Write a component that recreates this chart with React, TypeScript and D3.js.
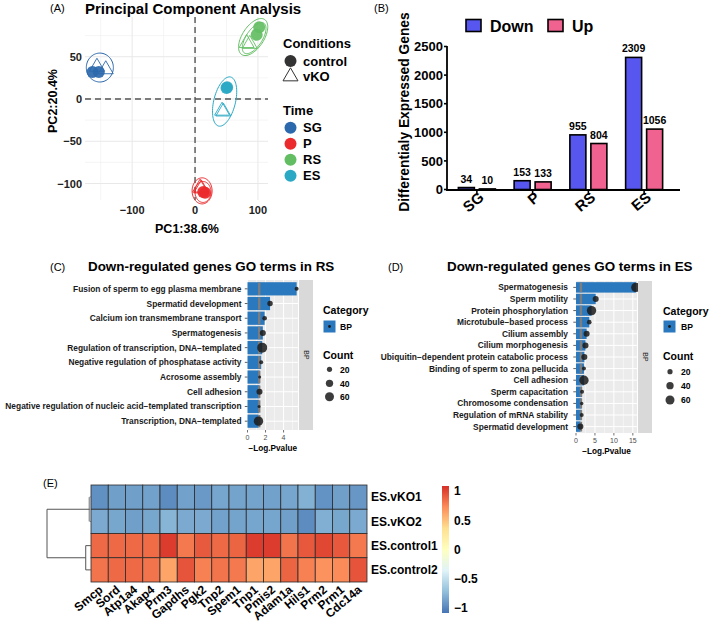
import React from "react";
import * as d3 from "d3";

const FONT = "'Liberation Sans', Arial, Helvetica, sans-serif";

// ---------------- Panel A: PCA ----------------
const timeLevels = ["SG", "P", "RS", "ES"];
const timeColors = ["#2b68ac", "#eb2a2d", "#63be63", "#2ba9c4"];
const conditionLevels = ["control", "vKO"];
const pcaTime = ["SG", "SG", "SG", "SG", "P", "P", "P", "P", "RS", "RS", "RS", "RS", "ES", "ES", "ES", "ES"];
const pcaCondition = ["control", "control", "vKO", "vKO", "control", "control", "vKO", "vKO", "control", "control", "vKO", "vKO", "control", "control", "vKO", "vKO"];
const pc1Values = [-163, -153, -156, -142, 16, 13, 8, 10, 102, 98, 82, 87, 51, 50, 43, 45];
const pc2Values = [32, 32, 38, 35, -111, -110, -105, -106, 85, 76, 66, 65, 14, 13, -14, -15];
const ellipseTime = ["SG", "P", "P", "RS", "RS", "ES"];
const ellipseCx = [-151.4, 11.2, 12.7, 92.4, 94, 47];
const ellipseCy = [37.2, -108.7, -110, 73.3, 72, -3];
const ellipseUx = [21.5, 15.9, 12.7, 18.3, 15.5, 9.6];
const ellipseUy = [0, 0, 0, 20.7, 17.6, 29];
const ellipseVx = [0, 0, 0, 14.3, 10.7, 16.7];
const ellipseVy = [17.1, 15.4, 12.4, -7.1, -5.3, -3.1];
const pcaXTicks = [-100, 0, 100];
const pcaXMinor = [-150, -50, 50];
const pcaYTicks = [-100, -50, 0, 50];
const pcaYMinor = [-75, -25, 25, 75];

// ---------------- Panel B: DEG bars ----------------
const degStages = ["SG", "P", "RS", "ES"];
const degDown = [34, 153, 955, 2309];
const degUp = [10, 133, 804, 1056];
const degTicks = [0, 500, 1000, 1500, 2000, 2500];

// ---------------- Panel C: GO RS ----------------
const rsTerms = [
  "Fusion of sperm to egg plasma membrane",
  "Spermatid development",
  "Calcium ion transmembrane transport",
  "Spermatogenesis",
  "Regulation of transcription, DNA\u2212templated",
  "Negative regulation of phosphatase activity",
  "Acrosome assembly",
  "Cell adhesion",
  "Negative regulation of nucleic acid\u2212templated transcription",
  "Transcription, DNA\u2212templated",
];
const rsLogP = [5.45, 2.5, 1.9, 1.7, 1.63, 1.52, 1.35, 1.33, 1.28, 1.22];
const rsCount = [12, 22, 16, 27, 74, 12, 7, 27, 7, 65];

// ---------------- Panel D: GO ES ----------------
const esTerms = [
  "Spermatogenesis",
  "Sperm motility",
  "Protein phosphorylation",
  "Microtubule\u2212based process",
  "Cilium assembly",
  "Cilium morphogenesis",
  "Ubiquitin\u2212dependent protein catabolic process",
  "Binding of sperm to zona pellucida",
  "Cell adhesion",
  "Sperm capacitation",
  "Chromosome condensation",
  "Regulation of mRNA stability",
  "Spermatid development",
];
const esLogP = [15.8, 5.2, 4.1, 3.5, 2.8, 2.5, 2.2, 2.1, 2.1, 1.6, 1.5, 1.5, 1.15];
const esCount = [65, 27, 65, 16, 27, 27, 27, 12, 65, 12, 9, 12, 27];
const countLegend = [20, 40, 60];
const pThreshold = 1.3;

// ---------------- Panel E: heatmap ----------------
const heatGenes = ["Smcp", "Sord", "Atp1a4", "Akap4", "Prm3", "Gapdhs", "Pgk2", "Tnp2", "Spem1", "Tnp1", "Pmis2", "Adam1a", "Hils1", "Prm2", "Prm1", "Cdc14a"];
const heatSamples = ["ES.vKO1", "ES.vKO2", "ES.control1", "ES.control2"];
const heatVKO1 = [-0.95, -0.88, -0.88, -0.87, -0.97, -0.87, -0.91, -0.85, -0.86, -0.86, -0.87, -0.85, -0.79, -0.94, -0.88, -0.92];
const heatVKO2 = [-0.83, -0.84, -0.88, -0.84, -0.77, -0.83, -0.83, -0.87, -0.86, -0.85, -0.85, -0.88, -0.97, -0.8, -0.84, -0.83];
const heatCtrl1 = [0.86, 0.86, 0.86, 0.85, 1.04, 0.8, 0.92, 0.86, 0.88, 1.04, 1.04, 0.82, 0.93, 0.99, 0.93, 0.8];
const heatCtrl2 = [0.82, 0.86, 0.86, 0.82, 0.62, 0.94, 0.77, 0.82, 0.8, 0.62, 0.62, 0.88, 0.77, 0.7, 0.73, 0.94];
const heatRows = [heatVKO1, heatVKO2, heatCtrl1, heatCtrl2];
const dendroHeights = [0.3, 1.2, 10]; // vKO merge, control merge, root
const heatPalette = ["#4575B4", "#91BFDB", "#E0F3F8", "#FFFFBF", "#FEE090", "#FC8D59", "#D73027"];
const heatLegendTicks = [1, 0.5, 0, -0.5, -1];

const fmtMinus = (v: number) => (v < 0 ? "\u2212" + Math.abs(v) : String(v));

function triPath(cx: number, cy: number, s: number) {
  const h = s / Math.sqrt(3);
  return `M${cx},${cy - h}L${cx + s / 2},${cy + h / 2}L${cx - s / 2},${cy + h / 2}Z`;
}

function PanelA() {
  const x = d3.scaleLinear().domain([-175, 116]).range([85, 268]);
  const y = d3.scaleLinear().domain([-119.5, 97]).range([200, 17]);
  const color = d3.scaleOrdinal<string, string>().domain(timeLevels).range(timeColors);
  const line = d3.line<[number, number]>().curve(d3.curveLinearClosed);
  const phis = d3.range(0, 2 * Math.PI, Math.PI / 40);
  const [x0, x1] = x.range();
  const [y1, y0] = y.range();
  return (
    <g>
      <text x={50} y={12} fontSize={11}>(A)</text>
      <text x={85} y={13.5} fontSize={15} fontWeight="bold">Principal Component Analysis</text>
      {pcaXMinor.map((t) => <line key={"xm" + t} x1={x(t)} x2={x(t)} y1={y0} y2={y1} stroke="#efefef" strokeWidth={0.6} />)}
      {pcaYMinor.map((t) => <line key={"ym" + t} x1={x0} x2={x1} y1={y(t)} y2={y(t)} stroke="#efefef" strokeWidth={0.6} />)}
      {pcaXTicks.map((t) => <line key={"x" + t} x1={x(t)} x2={x(t)} y1={y0} y2={y1} stroke="#e8e8e8" strokeWidth={1} />)}
      {pcaYTicks.map((t) => <line key={"y" + t} x1={x0} x2={x1} y1={y(t)} y2={y(t)} stroke="#e8e8e8" strokeWidth={1} />)}
      <line x1={x(0)} x2={x(0)} y1={y0} y2={y1} stroke="#555" strokeWidth={1.4} strokeDasharray="6,4" />
      <line x1={x0} x2={x1} y1={y(0)} y2={y(0)} stroke="#555" strokeWidth={1.4} strokeDasharray="6,4" />
      {ellipseTime.map((t, i) => {
        const pts = phis.map((p) => [
          x(ellipseCx[i] + ellipseUx[i] * Math.cos(p) + ellipseVx[i] * Math.sin(p)),
          y(ellipseCy[i] + ellipseUy[i] * Math.cos(p) + ellipseVy[i] * Math.sin(p)),
        ] as [number, number]);
        return <path key={"e" + i} d={line(pts) || ""} fill="none" stroke={color(t)} strokeWidth={1} />;
      })}
      {pc1Values.map((v, i) =>
        pcaCondition[i] === "control" ? (
          <circle key={"p" + i} cx={x(v)} cy={y(pc2Values[i])} r={6} fill={color(pcaTime[i])} fillOpacity={0.92} />
        ) : (
          <path key={"p" + i} d={triPath(x(v), y(pc2Values[i]), 15)} fill="none" stroke={color(pcaTime[i])} strokeWidth={0.9} />
        )
      )}
      {pcaYTicks.map((t) => (
        <text key={"yl" + t} x={82} y={y(t) + 4} fontSize={11} fontWeight="bold" textAnchor="end" fill="#222">{fmtMinus(t)}</text>
      ))}
      {pcaXTicks.map((t) => (
        <text key={"xl" + t} x={x(t)} y={214} fontSize={11} fontWeight="bold" textAnchor="middle" fill="#222">{fmtMinus(t)}</text>
      ))}
      <text x={187} y={233} fontSize={12.5} fontWeight="bold" textAnchor="middle">PC1:38.6%</text>
      <text transform={`translate(56.5,101) rotate(-90)`} fontSize={12.5} fontWeight="bold" textAnchor="middle">PC2:20.4%</text>
      {/* legend */}
      <text x={283} y={47.5} fontSize={13} fontWeight="bold">Conditions</text>
      {conditionLevels.map((c, i) => (
        <g key={c}>
          {c === "control" ? (
            <circle cx={290.5} cy={61 + i * 15.5} r={6} fill="#333" />
          ) : (
            <path d={triPath(290.5, 61 + i * 15.5, 15)} fill="none" stroke="#333" strokeWidth={1} />
          )}
          <text x={303} y={61 + i * 15.5 + 4.5} fontSize={13} fontWeight="bold">{c}</text>
        </g>
      ))}
      <text x={283} y={114.5} fontSize={13} fontWeight="bold">Time</text>
      {timeLevels.map((t, i) => (
        <g key={t}>
          <circle cx={290.5} cy={127.7 + i * 16} r={6} fill={color(t)} />
          <text x={303} y={127.7 + i * 16 + 4.5} fontSize={13} fontWeight="bold">{t}</text>
        </g>
      ))}
    </g>
  );
}

function PanelB() {
  const x = d3.scaleBand().domain(degStages).range([449, 672]);
  const y = d3.scaleLinear().domain([0, 2500]).range([189.5, 46.5]);
  const downC = "#5757f0";
  const upC = "#f0628f";
  const bw = 16;
  const cx = (s: string) => (x(s) as number) + x.bandwidth() / 2;
  return (
    <g>
      <text x={374} y={12} fontSize={11}>(B)</text>
      <rect x={466} y={19.5} width={15} height={12} fill={downC} stroke="#000" strokeWidth={1.6} />
      <text x={490} y={31.5} fontSize={16} fontWeight="bold">Down</text>
      <rect x={548} y={19.5} width={15} height={12} fill={upC} stroke="#000" strokeWidth={1.6} />
      <text x={572} y={31.5} fontSize={16} fontWeight="bold">Up</text>
      {degStages.map((s, i) => (
        <g key={s}>
          <rect x={cx(s) - 2.5 - bw} y={y(degDown[i])} width={bw} height={y(0) - y(degDown[i])} fill={downC} stroke="#000" strokeWidth={1.6} />
          <rect x={cx(s) + 2.5} y={y(degUp[i])} width={bw} height={y(0) - y(degUp[i])} fill={upC} stroke="#000" strokeWidth={1.6} />
          <text x={cx(s) - 2.5 - bw / 2} y={y(degDown[i]) - 5} fontSize={10.5} fontWeight="bold" textAnchor="middle">{degDown[i]}</text>
          <text x={cx(s) + 2.5 + bw / 2} y={y(degUp[i]) - 5} fontSize={10.5} fontWeight="bold" textAnchor="middle">{degUp[i]}</text>
          <line x1={cx(s)} x2={cx(s)} y1={190} y2={194.5} stroke="#000" strokeWidth={1.6} />
          <text transform={`translate(${cx(s) + 8},${199}) rotate(-40)`} fontSize={15} fontWeight="bold" textAnchor="end">{s}</text>
        </g>
      ))}
      <line x1={447} x2={447} y1={46} y2={190.8} stroke="#000" strokeWidth={1.8} />
      <line x1={446.1} x2={680} y1={190} y2={190} stroke="#000" strokeWidth={1.8} />
      {degTicks.map((t) => (
        <g key={t}>
          <line x1={444} x2={447} y1={y(t)} y2={y(t)} stroke="#000" strokeWidth={1.6} />
          <text x={443} y={y(t) + 4.6} fontSize={13} fontWeight="bold" textAnchor="end">{t}</text>
        </g>
      ))}
      <text transform="translate(409,112) rotate(-90)" fontSize={13.8} fontWeight="bold" textAnchor="middle">Differentialy Expressed Genes</text>
    </g>
  );
}

type GOCfg = {
  terms: string[]; logp: number[]; counts: number[];
  x0: number; x1: number; y0: number; y1: number; xmax: number; pad: number;
  ticks: number[]; minor: number[]; labelEnd: number; strip0: number; strip1: number;
  title: string; titleX: number; tag: string; tagX: number;
  legX: number; legBoxY: number; legCatY: number; legCountY: number; legDotX: number; legDotY: number[]; legLabX: number;
  tickLabY: number; axisTitleY: number;
};

function GOPanel({ c }: { c: GOCfg }) {
  const x = d3.scaleLinear().domain([0, c.xmax]).range([c.x0, c.x1]);
  const y = d3.scalePoint<string>().domain(c.terms).range([c.y0, c.y1]).padding(c.pad);
  const step = y.step();
  const r = d3.scaleSqrt().domain([0, 60]).range([0, 4.5]);
  const blue = "#2a78bd";
  return (
    <g>
      <text x={c.tagX} y={271} fontSize={11}>{c.tag}</text>
      <text x={c.titleX} y={271} fontSize={13.4} fontWeight="bold">{c.title}</text>
      <rect x={c.x0} y={c.y0} width={c.x1 - c.x0} height={c.y1 - c.y0} fill="#ebebeb" />
      {c.minor.map((t) => <line key={"m" + t} x1={x(t)} x2={x(t)} y1={c.y0} y2={c.y1} stroke="#fff" strokeWidth={0.5} />)}
      {c.ticks.map((t) => <line key={"t" + t} x1={x(t)} x2={x(t)} y1={c.y0} y2={c.y1} stroke="#fff" strokeWidth={1} />)}
      {c.terms.map((t) => <line key={"h" + t} x1={c.x0} x2={c.x1} y1={y(t)} y2={y(t)} stroke="#fff" strokeWidth={1} />)}
      {c.terms.map((t, i) => (
        <rect key={"b" + i} x={x(0)} y={(y(t) as number) - step * 0.45} width={x(c.logp[i]) - x(0)} height={step * 0.9} fill={blue} />
      ))}
      {c.terms.map((t, i) => (
        <rect key={"g" + i} x={x(pThreshold) - 1.2} y={(y(t) as number) - step * 0.42} width={2.4} height={step * 0.84} fill="#7d7d7d" />
      ))}
      {c.terms.map((t, i) => (
        <circle key={"d" + i} cx={x(c.logp[i])} cy={y(t)} r={r(c.counts[i])} fill="#1a1a1a" fillOpacity={0.85} />
      ))}
      {c.terms.map((t) => (
        <g key={"l" + t}>
          <line x1={c.x0 - 2.7} x2={c.x0} y1={y(t)} y2={y(t)} stroke="#333" strokeWidth={0.8} />
          <text x={c.labelEnd} y={(y(t) as number) + 3} fontSize={8.4} fontWeight="bold" textAnchor="end" fill="#1a1a1a">{t}</text>
        </g>
      ))}
      {c.ticks.map((t) => (
        <g key={"xt" + t}>
          <line x1={x(t)} x2={x(t)} y1={c.y1} y2={c.y1 + 2.5} stroke="#333" strokeWidth={0.7} />
          <text x={x(t)} y={c.tickLabY} fontSize={7} textAnchor="middle" fill="#4d4d4d">{t}</text>
        </g>
      ))}
      <text x={(c.x0 + c.x1) / 2} y={c.axisTitleY} fontSize={8.2} fontWeight="bold" textAnchor="middle">{"\u2212Log.Pvalue"}</text>
      <rect x={c.strip0} y={c.y0} width={c.strip1 - c.strip0} height={c.y1 - c.y0} fill="#d9d9d9" />
      <text transform={`translate(${(c.strip0 + c.strip1) / 2 - 2.3},${(c.y0 + c.y1) / 2}) rotate(90)`} fontSize={7} textAnchor="middle" fill="#1a1a1a">BP</text>
      {/* legend */}
      <text x={c.legX} y={c.legCatY} fontSize={10.5} fontWeight="bold">Category</text>
      <rect x={c.legX + 0.5} y={c.legBoxY} width={12} height={12} fill={blue} />
      <circle cx={c.legX + 6.5} cy={c.legBoxY + 6} r={1.4} fill="#1a1a1a" />
      <text x={c.legLabX} y={c.legBoxY + 9} fontSize={8.6} fontWeight="bold">BP</text>
      <text x={c.legX} y={c.legCountY} fontSize={10.5} fontWeight="bold">Count</text>
      {countLegend.map((v, i) => (
        <g key={v}>
          <circle cx={c.legDotX} cy={c.legDotY[i]} r={r(v)} fill="#1a1a1a" fillOpacity={0.85} />
          <text x={c.legLabX} y={c.legDotY[i] + 3.2} fontSize={8.6} fontWeight="bold">{v}</text>
        </g>
      ))}
    </g>
  );
}

function PanelE() {
  const x = d3.scaleBand().domain(heatGenes).range([91, 367]);
  const y = d3.scaleBand().domain(heatSamples).range([485, 582]);
  const lo = -1.085, hi = 1.085;
  const color = d3.scaleLinear<string>()
    .domain(heatPalette.map((_, i) => lo + (i * (hi - lo)) / (heatPalette.length - 1)))
    .range(heatPalette)
    .interpolate(d3.interpolateRgb)
    .clamp(true);
  const ly = d3.scaleLinear().domain([lo, hi]).range([613, 486]);
  const dx = d3.scaleLinear().domain([0, dendroHeights[2]]).range([91, 47]);
  const rc = (i: number) => (y(heatSamples[i]) as number) + y.bandwidth() / 2;
  const m01 = (rc(0) + rc(1)) / 2;
  const m23 = (rc(2) + rc(3)) / 2;
  const dl = "#555";
  return (
    <g>
      <text x={43} y={487} fontSize={11}>(E)</text>
      <defs>
        <linearGradient id="heatGrad" x1="0" y1="1" x2="0" y2="0">
          {heatPalette.map((col, i) => (
            <stop key={i} offset={i / (heatPalette.length - 1)} stopColor={col} />
          ))}
        </linearGradient>
      </defs>
      {heatRows.map((row, ri) =>
        row.map((v, ci) => (
          <rect key={ri + "-" + ci} x={x(heatGenes[ci])} y={y(heatSamples[ri])} width={x.bandwidth()} height={y.bandwidth()} fill={color(v)} stroke="#2a2a2a" strokeWidth={0.8} />
        ))
      )}
      {heatSamples.map((s, i) => (
        <text key={s} x={371} y={rc(i) + 4.3} fontSize={12} fontWeight="bold">{s}</text>
      ))}
      {heatGenes.map((g) => (
        <text key={g} transform={`translate(${(x(g) as number) + x.bandwidth() / 2 + 4},${591}) rotate(-40)`} fontSize={12} fontWeight="bold" textAnchor="end">{g}</text>
      ))}
      {/* dendrogram */}
      <line x1={dx(0)} x2={dx(dendroHeights[0])} y1={rc(0)} y2={rc(0)} stroke={dl} />
      <line x1={dx(0)} x2={dx(dendroHeights[0])} y1={rc(1)} y2={rc(1)} stroke={dl} />
      <line x1={dx(dendroHeights[0])} x2={dx(dendroHeights[0])} y1={rc(0)} y2={rc(1)} stroke="#999" strokeWidth={2.2} />
      <line x1={dx(0)} x2={dx(dendroHeights[1])} y1={rc(2)} y2={rc(2)} stroke={dl} />
      <line x1={dx(0)} x2={dx(dendroHeights[1])} y1={rc(3)} y2={rc(3)} stroke={dl} />
      <line x1={dx(dendroHeights[1])} x2={dx(dendroHeights[1])} y1={rc(2)} y2={rc(3)} stroke={dl} />
      <line x1={dx(dendroHeights[0])} x2={dx(dendroHeights[2])} y1={m01} y2={m01} stroke={dl} />
      <line x1={dx(dendroHeights[1])} x2={dx(dendroHeights[2])} y1={m23} y2={m23} stroke={dl} />
      <line x1={dx(dendroHeights[2])} x2={dx(dendroHeights[2])} y1={m01} y2={m23} stroke={dl} />
      {/* colour legend */}
      <rect x={442} y={ly(hi)} width={7} height={ly(lo) - ly(hi)} fill="url(#heatGrad)" />
      {heatLegendTicks.map((t) => (
        <text key={t} x={454} y={ly(t) + 4.3} fontSize={12} fontWeight="bold">{fmtMinus(t)}</text>
      ))}
    </g>
  );
}

const cfgC: GOCfg = {
  terms: rsTerms, logp: rsLogP, counts: rsCount,
  x0: 247.5, x1: 298, y0: 280, y1: 430, xmax: 5.6, pad: 0.6,
  ticks: [0, 2, 4], minor: [1, 3, 5], labelEnd: 241.5, strip0: 299, strip1: 313,
  title: "Down-regulated genes GO terms in RS", titleX: 88, tag: "(C)", tagX: 50,
  legX: 323, legBoxY: 320.5, legCatY: 314, legCountY: 359, legDotX: 329.5, legDotY: [369.3, 383.3, 396.7], legLabX: 340,
  tickLabY: 440, axisTitleY: 451,
};
const cfgD: GOCfg = {
  terms: esTerms, logp: esLogP, counts: esCount,
  x0: 576, x1: 637, y0: 281, y1: 433, xmax: 16.1, pad: 0.55,
  ticks: [0, 5, 10, 15], minor: [2.5, 7.5, 12.5], labelEnd: 568, strip0: 638, strip1: 652,
  title: "Down-regulated genes GO terms in ES", titleX: 447, tag: "(D)", tagX: 388,
  legX: 663, legBoxY: 320.5, legCatY: 315, legCountY: 360, legDotX: 670, legDotY: [371.7, 385.7, 400], legLabX: 681,
  tickLabY: 443, axisTitleY: 453.5,
};

export default function App() {
  return (
    <svg width={709} height={626} style={{ position: "absolute", left: 0, top: 0, background: "#fff" }} fontFamily={FONT}>
      <rect width={709} height={626} fill="#fff" />
      <PanelA />
      <PanelB />
      <GOPanel c={cfgC} />
      <GOPanel c={cfgD} />
      <PanelE />
    </svg>
  );
}
